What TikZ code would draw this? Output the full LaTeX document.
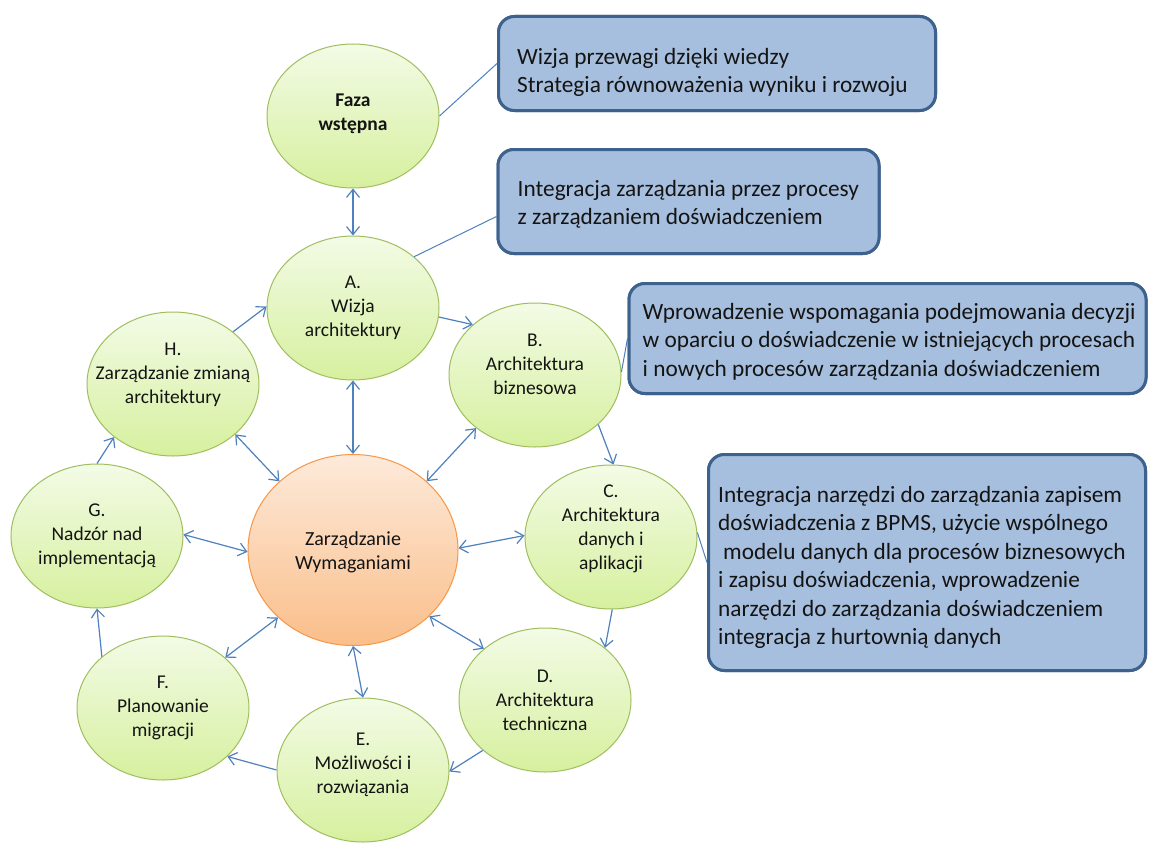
\documentclass[tikz,border=0pt]{standalone}
\usepackage{fontspec}
\setmainfont{Carlito}
\usetikzlibrary{arrows.meta,shapes.geometric}

\definecolor{linkblue}{RGB}{79,129,189}
\definecolor{boxfill}{RGB}{167,191,222}
\definecolor{boxline}{RGB}{62,98,142}
\definecolor{greenline}{RGB}{160,190,95}
\definecolor{greentop}{RGB}{243,251,230}
\definecolor{greenbot}{RGB}{214,240,158}
\definecolor{orangetop}{RGB}{253,234,218}
\definecolor{orangebot}{RGB}{250,190,138}
\definecolor{orangeline}{RGB}{247,150,70}
\definecolor{ink}{RGB}{20,20,20}

\tikzset{
  phase/.style={ellipse, draw=greenline, line width=1pt, top color=greentop,
    bottom color=greenbot, minimum width=172pt, minimum height=144pt, inner sep=0pt},
  core/.style={ellipse, draw=orangeline, line width=1pt, top color=orangetop,
    bottom color=orangebot, minimum width=210pt, minimum height=191pt, inner sep=0pt},
  lbl/.style={align=center, text=ink, font=\fontsize{19.5}{24}\selectfont, inner sep=0pt},
  note/.style={draw=boxline, line width=3pt, fill=boxfill, rounded corners=16pt, inner sep=0pt},
  notetext/.style={align=left, anchor=west, text=ink, font=\fontsize{23.3}{28.5}\selectfont, inner sep=0pt},
  tip/.tip={Straight Barb[length=8pt,width=13pt]},
  flow/.style={draw=linkblue, line width=1.2pt, -tip},
  both/.style={draw=linkblue, line width=1.2pt, tip-tip},
  tie/.style={draw=linkblue, line width=1pt},
}

\begin{document}
\begin{tikzpicture}[x=1pt,y=-1pt]
\useasboundingbox[fill=white] (0,0) rectangle (1150,843);

% phases of the cycle
\node[phase] (faza) at (353,116) {};
\node[phase] (A) at (353,308) {};
\node[phase] (B) at (535,375) {};
\node[phase] (C) at (611,537) {};
\node[phase] (D) at (545,700) {};
\node[phase] (E) at (363,770) {};
\node[phase] (F) at (163,708) {};
\node[phase] (G) at (97,536) {};
\node[phase] (H) at (173,384) {};
\node[core]  (Z) at (353,550) {};

% labels of the phases
\node[lbl] (tfaza) at ([yshift=2pt]faza.center) {\textbf{Faza}\\\textbf{wstępna}};
\node[lbl] (tA) at (A.center) {A.\\Wizja\\architektury};
\node[lbl] (tB) at ([yshift=11pt]B.center) {B.\\Architektura\\biznesowa};
\node[lbl] (tC) at ([yshift=8pt]C.center) {C.\\Architektura\\danych i\\aplikacji};
\node[lbl] (tD) at (D.center) {D.\\Architektura\\techniczna};
\node[lbl] (tE) at ([yshift=5pt]E.center) {E.\\Możliwości i\\rozwiązania};
\node[lbl] (tF) at (F.center) {F.\\Planowanie\\migracji};
\node[lbl] (tG) at (G.center) {G.\\Nadzór nad\\implementacją};
\node[lbl] (tH) at ([yshift=9pt]H.center) {H.\\Zarządzanie zmianą\\architektury};
\node[lbl, font=\fontsize{20}{24}\selectfont] (tZ) at ([yshift=-2pt]Z.center) {Zarządzanie\\Wymaganiami};

% note boxes (placed first so the leader lines can refer to them)
\node[note, minimum width=437pt, minimum height=94pt] (b1) at (717,63.5) {};
\node[note, minimum width=381pt, minimum height=104pt] (b2) at (688.5,201.5) {};
\node[note, minimum width=517pt, minimum height=110pt] (b3) at (887.5,338.5) {};
\node[note, minimum width=437pt, minimum height=216pt] (b4) at (927,562.5) {};

% leader lines to the notes
\draw[tie] (faza.0) -- (b1.west);
\draw[tie] (A.40) -- ([yshift=-15pt]b2.west);
\draw[tie] (B.2) -- (b3.west);
\draw[tie] (C.3) -- (b4.west);

% redraw notes above their leader lines
\node[note, minimum width=437pt, minimum height=94pt] at (b1.center) {};
\node[note, minimum width=381pt, minimum height=104pt] at (b2.center) {};
\node[note, minimum width=517pt, minimum height=110pt] at (b3.center) {};
\node[note, minimum width=437pt, minimum height=216pt] at (b4.center) {};

\node[notetext] (t1) at ([xshift=20pt,yshift=-9pt]b1.west)
  {Wizja przewagi dzięki wiedzy\\Strategia równoważenia wyniku i rozwoju};
\node[notetext] (t2) at ([xshift=21pt,yshift=-3pt]b2.west)
  {Integracja zarządzania przez procesy\\z zarządzaniem doświadczeniem};
\node[notetext] (t3) at ([xshift=15pt,yshift=-3pt]b3.west)
  {Wprowadzenie wspomagania podejmowania decyzji\\w oparciu o doświadczenie w istniejących procesach\\i nowych procesów zarządzania doświadczeniem};
\node[notetext] (t4) at ([xshift=11pt,yshift=-5pt]b4.west)
  {Integracja narzędzi do zarządzania zapisem\\doświadczenia z BPMS, użycie wspólnego\\\hspace*{5pt}modelu danych dla procesów biznesowych\\i zapisu doświadczenia, wprowadzenie\\narzędzi do zarządzania doświadczeniem\\integracja z hurtownią danych};

% cycle of phases
\draw[both] (faza.south) -- (A.north);
\draw[flow] (A.-6) -- (B.141);
\draw[flow] (B.-38) -- (C.88);
\draw[flow] (C.-89) -- (D.41);
\draw[flow] (D.-141) -- (E.-1);
\draw[flow] (E.180) -- (F.-37);
\draw[flow] (F.140) -- (G.-90);
\draw[flow] (G.90) -- (H.-138);
\draw[flow] (H.41) -- (A.179);

% requirements management in the middle
\draw[both] (Z.90) -- (A.-90);
\draw[both] (Z.43) -- (B.-138);
\draw[both] (Z.1) -- (C.179);
\draw[both] (Z.-41) -- (D.140);
\draw[both] (Z.-90) -- (E.90);
\draw[both] (Z.-138) -- (F.39);
\draw[both] (Z.181) -- (G.1);
\draw[both] (Z.137) -- (H.-39);
\end{tikzpicture}
\end{document}
